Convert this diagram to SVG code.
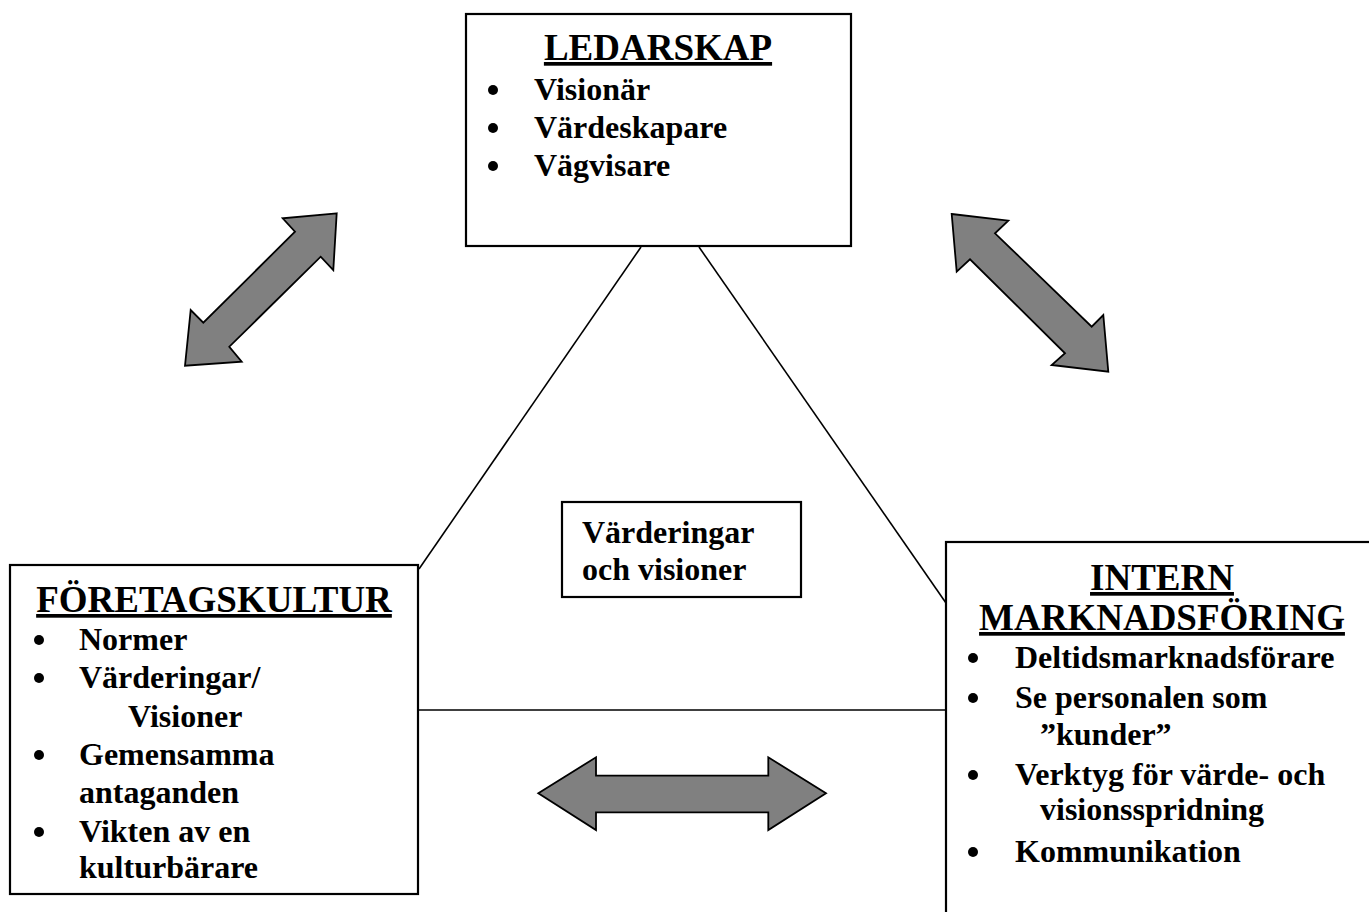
<svg xmlns="http://www.w3.org/2000/svg" width="1369" height="912" viewBox="0 0 1369 912">
<style>
.box{fill:#fff;stroke:#000;stroke-width:2.2}
.ln{stroke:#000;stroke-width:1.6;fill:none}
.arr{fill:#808080;stroke:#000;stroke-width:1.8;stroke-linejoin:miter}
.bul{fill:#000}
text{font-family:"Liberation Serif","Times New Roman",serif;font-weight:bold;fill:#000}
.title{font-size:37px;text-decoration:underline}
.item{font-size:32px}
</style>
<rect width="1369" height="912" fill="#fff"/>
<g id="connectors">
<line class="ln" x1="641" y1="247" x2="419" y2="569"/>
<line class="ln" x1="699" y1="247" x2="946" y2="603"/>
<line class="ln" x1="418" y1="710" x2="946" y2="710"/>
<polygon class="arr" points="336.7,213.3 282.7,218.3 295,231.7 203.3,322.7 190.7,310 185,365.7 241.7,361.7 229.3,346.7 320.7,256.7 333.3,270"/>
<polygon class="arr" points="951.7,214 1008.3,220.7 995,233.3 1091.7,326.7 1103.3,315 1108.3,371.7 1051.7,365 1065,353.3 970,259.3 956.7,271.7"/>
<polygon class="arr" points="538.3,793.3 596,757.3 596,775.7 768.3,775.7 768.3,757.3 826,793.3 768.3,830 768.3,812.3 596,812.3 596,830"/>
</g>
<g id="ledarskap">
<rect class="box" x="466" y="14" width="385" height="232"/>
<text class="title" x="658" y="60" text-anchor="middle">LEDARSKAP</text>
<circle class="bul" cx="493" cy="90" r="5"/>
<text class="item" x="534" y="100">Visionär</text>
<circle class="bul" cx="493" cy="128" r="5"/>
<text class="item" x="534" y="138">Värdeskapare</text>
<circle class="bul" cx="493" cy="166" r="5"/>
<text class="item" x="534" y="176">Vägvisare</text>
</g>
<g id="foretagskultur">
<rect class="box" x="10" y="565" width="408" height="329"/>
<text class="title" x="214" y="612" text-anchor="middle">FÖRETAGSKULTUR</text>
<circle class="bul" cx="39" cy="640" r="5"/>
<text class="item" x="79" y="650">Normer</text>
<circle class="bul" cx="39" cy="678" r="5"/>
<text class="item" x="79" y="688">Värderingar/</text>
<text class="item" x="128" y="727">Visioner</text>
<circle class="bul" cx="39" cy="755" r="5"/>
<text class="item" x="79" y="765">Gemensamma</text>
<text class="item" x="79" y="803">antaganden</text>
<circle class="bul" cx="39" cy="832" r="5"/>
<text class="item" x="79" y="842">Vikten av en</text>
<text class="item" x="79" y="878">kulturbärare</text>
</g>
<g id="intern-marknadsforing">
<rect class="box" x="946" y="542" width="430" height="380"/>
<text class="title" x="1162" y="590" text-anchor="middle">INTERN</text>
<text class="title" x="1162" y="630" text-anchor="middle">MARKNADSFÖRING</text>
<circle class="bul" cx="973" cy="658" r="5"/>
<text class="item" x="1015" y="668">Deltidsmarknadsförare</text>
<circle class="bul" cx="973" cy="698" r="5"/>
<text class="item" x="1015" y="708">Se personalen som</text>
<text class="item" x="1040" y="745">”kunder”</text>
<circle class="bul" cx="973" cy="775" r="5"/>
<text class="item" x="1015" y="785">Verktyg för värde- och</text>
<text class="item" x="1040" y="820">visionsspridning</text>
<circle class="bul" cx="973" cy="852" r="5"/>
<text class="item" x="1015" y="862">Kommunikation</text>
</g>
<g id="varderingar">
<rect class="box" x="562" y="502" width="239" height="95"/>
<text class="item" x="582" y="543">Värderingar</text>
<text class="item" x="582" y="580">och visioner</text>
</g>
</svg>
